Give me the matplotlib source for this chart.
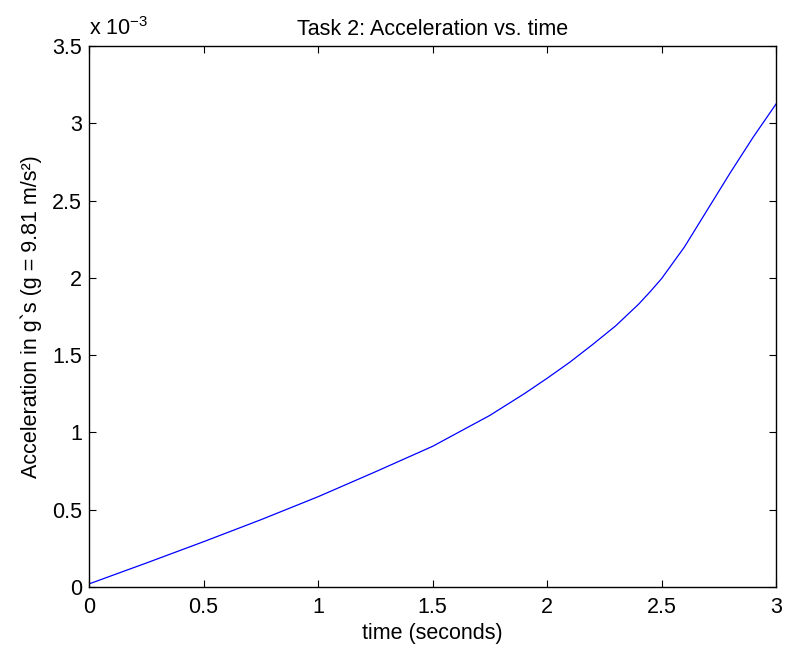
import matplotlib
matplotlib.use("Agg")
import matplotlib.pyplot as plt
import numpy as np

plt.rcParams['font.family'] = ['Liberation Sans', 'DejaVu Sans']
plt.rcParams['mathtext.fontset'] = 'custom'
plt.rcParams['mathtext.rm'] = 'Liberation Sans'
plt.rcParams['mathtext.it'] = 'Liberation Sans'

# time (s) and acceleration (units of 1e-3 g)
time_s = [0, 0.25, 0.5, 0.75, 1.0, 1.25, 1.5, 1.75, 1.9, 2.0, 2.1, 2.2, 2.3,
          2.4, 2.45, 2.5, 2.6, 2.7, 2.8, 2.9, 3.0]
accel_milli_g = [0.02, 0.155, 0.293, 0.435, 0.584, 0.745, 0.91, 1.11, 1.25,
                 1.35, 1.455, 1.57, 1.69, 1.83, 1.91, 1.995, 2.2, 2.44, 2.68,
                 2.91, 3.125]

xticks = [0, 0.5, 1, 1.5, 2, 2.5, 3]
yticks = [0, 0.5, 1, 1.5, 2, 2.5, 3, 3.5]

fig = plt.figure(figsize=(7.85, 6.51), dpi=100)
ax = fig.add_axes([0.1134, 0.0983, 0.8752, 0.831])

ax.plot(time_s, accel_milli_g, color='#0000ff', linewidth=0.9)

ax.set_xlim(0, 3)
ax.set_ylim(0, 3.5)
ax.set_xticks(xticks)
ax.set_xticklabels(['0', '0.5', '1', '1.5', '2', '2.5', '3'])
ax.set_yticks(yticks)
ax.set_yticklabels(['0', '0.5', '1', '1.5', '2', '2.5', '3', '3.5'])
ax.tick_params(direction='in', length=5, width=0.8, top=True, right=True,
               labelsize=15.5, pad=5)
ax.tick_params(axis='x', pad=7)
for s in ax.spines.values():
    s.set_linewidth(1.0)

ax.set_title('Task 2: Acceleration vs. time', fontsize=15.5, pad=8)
ax.set_xlabel('time (seconds)', fontsize=15.5, labelpad=4)
ax.set_ylabel('Acceleration in g`s (g = 9.81 m/s²)', fontsize=15.5, labelpad=7)
ax.text(0, 1.012, 'x 10$^{-3}$', transform=ax.transAxes, fontsize=15.5,
        ha='left', va='bottom')

fig.savefig('out.png', dpi=100)
